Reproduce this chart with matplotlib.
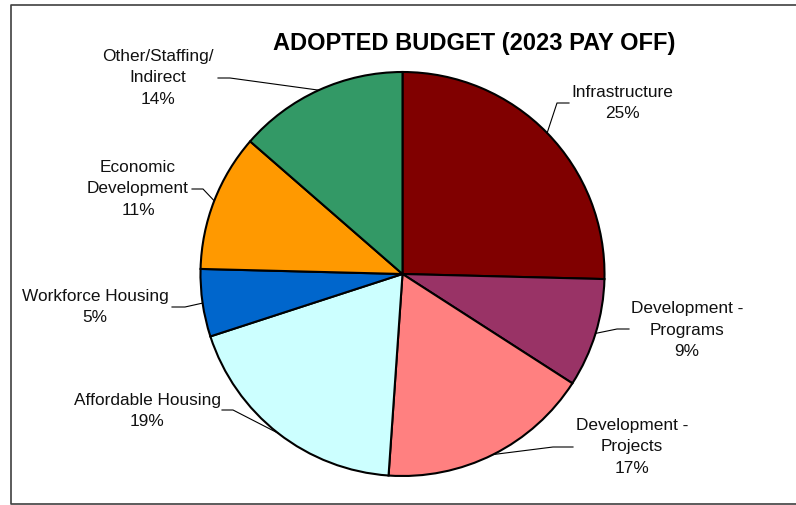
import numpy as np
import matplotlib
matplotlib.use("Agg")
import matplotlib.pyplot as plt

# budget shares (percent)
categorias = ["Infrastructure", "Development -\nPrograms", "Development -\nProjects",
              "Affordable Housing", "Workforce Housing", "Economic\nDevelopment",
              "Other/Staffing/\nIndirect"]
valores = [25.4, 8.7, 17.0, 18.9, 5.4, 11.0, 13.6]
colores = ["#800000", "#993366", "#FF8080", "#CCFFFF", "#0066CC", "#FF9900", "#339966"]

titulo = "ADOPTED BUDGET (2023 PAY OFF)"

# layout in pixels (y measured from top of the image)
W, H = 796, 505
centro = (402.5, 274)
radio = 202
# text centre, leader start x, elbow x, leader y
pos_texto = [(622, 103), (687, 330), (632, 447), (147, 411), (95, 307), (138, 189), (158, 78)]
lider = [(569, 557, 103), (629, 617, 329), (573, 553, 447), (222, 233, 410),
         (172, 185, 307), (192, 203, 189), (218, 230, 78)]

fig = plt.figure(figsize=(W / 100, H / 100), dpi=100)
ax = fig.add_axes([0, 0, 1, 1])
ax.set_xlim(0, W)
ax.set_ylim(0, H)
ax.set_aspect("equal")
ax.axis("off")

def yy(y):
    return H - y

wedges, _ = ax.pie(valores, colors=colores, startangle=90, counterclock=False,
                   center=(centro[0], yy(centro[1])), radius=radio,
                   wedgeprops=dict(edgecolor="black", linewidth=1.5))
ax.set_xlim(0, W)
ax.set_ylim(0, H)

fuente = "Liberation Sans"
for w, cat, v, (tx, ty), (sx, ex, ly) in zip(wedges, categorias, valores, pos_texto, lider):
    ang = np.deg2rad((w.theta1 + w.theta2) / 2)
    px = centro[0] + radio * np.cos(ang)
    py = yy(centro[1]) + radio * np.sin(ang)
    ax.plot([sx, ex, px], [yy(ly), yy(ly), py], color="black", lw=0.8, zorder=5)
    ax.text(tx, yy(ty), f"{cat}\n{v:.0f}%", ha="center", va="center",
            fontsize=12.4, family=fuente, linespacing=1.55, color="#111111")

ax.text(474, yy(50), titulo, ha="center", va="baseline", fontsize=17,
        fontweight="bold", family=fuente)

# chart border (right side falls outside the image)
ax.plot([W + 5, 11, 11, W + 5], [yy(5), yy(5), yy(504), yy(504)],
        color="#404040", lw=1.2, clip_on=False)

fig.savefig("out.png", dpi=100)
